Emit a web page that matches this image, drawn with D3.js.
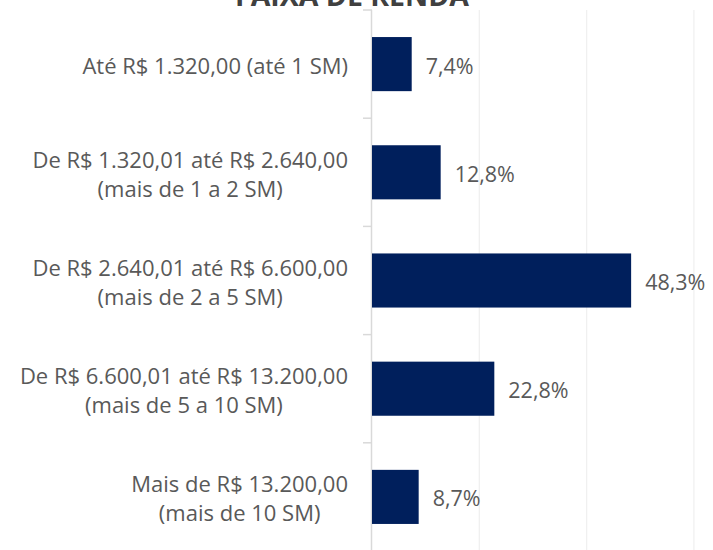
<!DOCTYPE html>
<html><head><meta charset="utf-8">
<script src="https://cdn.jsdelivr.net/npm/d3@7"></script>
<style>body{margin:0;background:#fff}</style>
</head><body>
<svg id="c" width="713" height="550"></svg>
<script>
const categories = [
  ["Até R$ 1.320,00 (até 1 SM)"],
  ["De R$ 1.320,01 até R$ 2.640,00", "(mais de 1 a 2 SM)"],
  ["De R$ 2.640,01 até R$ 6.600,00", "(mais de 2 a 5 SM)"],
  ["De R$ 6.600,01 até R$ 13.200,00", "(mais de 5 a 10 SM)"],
  ["Mais de R$ 13.200,00", "(mais de 10 SM)"]
];
const values = [7.4, 12.8, 48.3, 22.8, 8.7];
const valueLabels = ["7,4%", "12,8%", "48,3%", "22,8%", "8,7%"];
const gridTicks = [20, 40, 60];
const title = "FAIXA DE RENDA";

const svg = d3.select("#c");
const font = "'Open Sans', 'Noto Sans', sans-serif";
const x0 = 372, pxPerPct = 5.365;
const x = d3.scaleLinear().domain([0, 60]).range([x0, x0 + 60 * pxPerPct]);
const y = d3.scaleBand().domain(d3.range(categories.length)).range([10, 551]).paddingInner(0.5).paddingOuter(0.25);

svg.append("text").attr("x", 352).attr("y", 6).attr("text-anchor", "middle")
  .attr("font-family", font).attr("font-weight", "bold").attr("font-size", 28.5)
  .attr("fill", "#404040").text(title);

svg.selectAll("line.grid").data(gridTicks).enter().append("line")
  .attr("x1", d => x(d)).attr("x2", d => x(d)).attr("y1", 10).attr("y2", 550)
  .attr("stroke", "#f0f0f0").attr("stroke-width", 1.3);

const tickYs = d3.range(categories.length + 1).map(i => 10 + i * (541 / categories.length));
svg.append("line").attr("x1", x0 - 0.5).attr("x2", x0 - 0.5).attr("y1", 10).attr("y2", 550)
  .attr("stroke", "#d9d9d9").attr("stroke-width", 1.5);
svg.selectAll("line.tk").data(tickYs).enter().append("line")
  .attr("x1", x0 - 9).attr("x2", x0).attr("y1", d => d).attr("y2", d => d)
  .attr("stroke", "#d9d9d9").attr("stroke-width", 1.5);

svg.selectAll("rect.bar").data(values).enter().append("rect")
  .attr("x", x0).attr("y", (d, i) => y(i)).attr("width", d => x(d) - x0)
  .attr("height", y.bandwidth()).attr("fill", "#001f5c");

svg.selectAll("text.val").data(values).enter().append("text")
  .attr("x", d => x(d) + 14).attr("y", (d, i) => y(i) + y.bandwidth() / 2 + 9.5)
  .attr("font-family", font).attr("font-size", 21.5)
  .attr("fill", "#595959").text((d, i) => valueLabels[i]);

const lab = svg.selectAll("text.cat").data(categories).enter().append("text")
  .attr("text-anchor", "middle").attr("font-family", font).attr("font-size", 22)
  .attr("fill", "#595959");
lab.each(function (lines, i) {
  const cy = y(i) + y.bandwidth() / 2 + 2;
  const lh = 29;
  const start = cy - (lines.length - 1) * lh / 2 + 8;
  const t = d3.select(this);
  lines.forEach((ln, j) => {
    t.append("tspan").attr("y", start + j * lh).text(ln);
  });
  const w = d3.max(t.selectAll("tspan").nodes(), n => n.getComputedTextLength());
  t.selectAll("tspan").attr("x", 348 - w / 2);
});
</script>
</body></html>
